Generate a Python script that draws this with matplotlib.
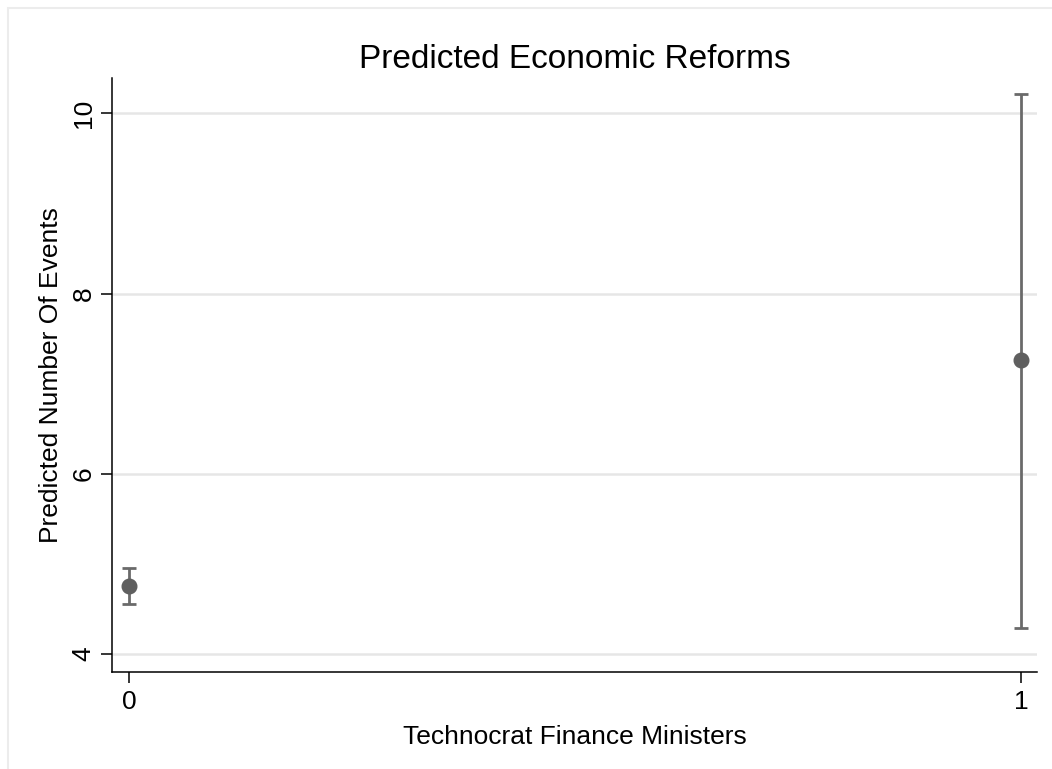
import matplotlib.pyplot as plt
from matplotlib.patches import Rectangle

# predicted counts with 95% CI
technocrat = [0, 1]
predicted = [4.75, 7.26]
ci_low = [4.555, 4.285]
ci_high = [4.955, 10.21]
y_ticks = [4, 6, 8, 10]

plt.rcParams['font.family'] = ['Liberation Sans', 'DejaVu Sans']

fig = plt.figure(figsize=(10.52, 7.69), dpi=100)
fig.patches.append(Rectangle((8 / 1052, -0.1), 1.2, 1.1 - 8 / 769, transform=fig.transFigure,
                             fill=False, edgecolor='#ececec', linewidth=1.5))
ax = fig.add_axes([0.1068, 0.1261, 0.8787, 0.7729])

yerr = [[p - l for p, l in zip(predicted, ci_low)],
        [h - p for p, h in zip(predicted, ci_high)]]
ax.errorbar(technocrat, predicted, yerr=yerr, fmt='o', color='#5f5f5f', ecolor='#6a6a6a',
            markersize=10.5, elinewidth=2, capsize=5, capthick=2, zorder=3)

ax.set_xlim(-0.0187, 1.0178)
ax.set_ylim(3.80, 10.395)
ax.set_xticks(technocrat)
ax.set_yticks(y_ticks)
ax.set_yticklabels([str(t) for t in y_ticks], rotation=90, va='center')
ax.grid(axis='y', color='#e6e6e6', linewidth=1.8)
ax.set_axisbelow(True)
for s in ['top', 'right']:
    ax.spines[s].set_visible(False)
for s in ['left', 'bottom']:
    ax.spines[s].set_linewidth(1.1)
ax.tick_params(direction='out', length=8, width=1.1, labelsize=19)
ax.tick_params(axis='x', pad=5)
ax.tick_params(axis='y', pad=4)

ax.set_title('Predicted Economic Reforms', fontsize=24, pad=7)
ax.set_xlabel('Technocrat Finance Ministers', fontsize=19, labelpad=8)
ax.set_ylabel('Predicted Number Of Events', fontsize=19, labelpad=6)

plt.savefig('out.png', dpi=100)
